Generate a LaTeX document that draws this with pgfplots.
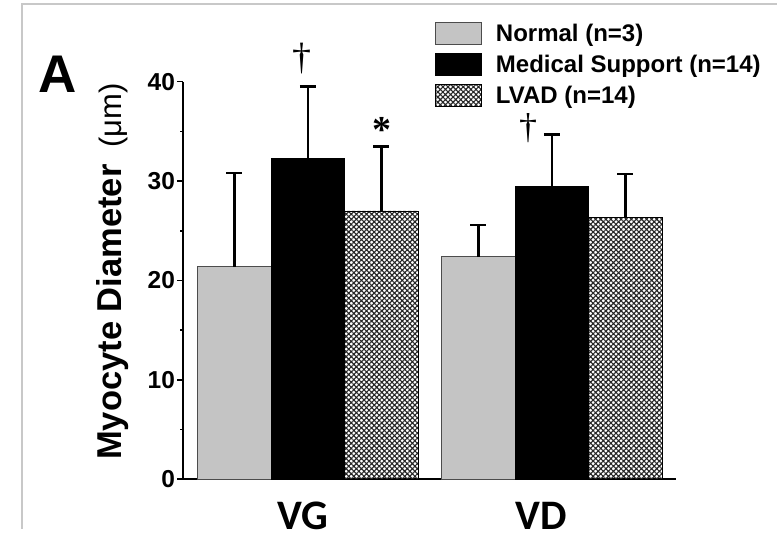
\documentclass[border=0pt]{standalone}
\usepackage{fontspec}
\setmainfont{Liberation Sans}
\newfontfamily\serifx{Liberation Serif}
\newfontfamily\calib{Carlito}
\usepackage{pgfplots}
\pgfplotsset{compat=1.18}
\usetikzlibrary{patterns.meta}
\definecolor{normalgray}{RGB}{196,196,196}
\definecolor{framegray}{RGB}{200,200,200}

\begin{document}
\begin{tikzpicture}[x=1pt,y=1pt]
\useasboundingbox (0,0) rectangle (777,540);
\draw[framegray, line width=1.2pt] (22,11) -- (22,536) -- (777,536);
\begin{axis}[
  at={(183pt,60.7pt)}, anchor=south west,
  scale only axis, width=493pt, height=397.6pt,
  xmin=-0.511, xmax=1.508, ymin=0, ymax=40,
  axis lines*=left,
  axis line style={line width=2.2pt},
  xtick=\empty,
  ytick={0,10,20,30,40},
  minor ytick={5,15,25,35},
  tick align=outside,
  major tick length=6pt, minor tick length=3pt,
  tick style={line width=1.6pt, black},
  yticklabel style={font=\fontsize{24.5}{27}\selectfont\bfseries, xshift=1.5pt},
  /pgf/number format/assume math mode=true,
  ybar=0pt, bar width=73.5pt,
  clip=false,
  error bars/y dir=plus, error bars/y explicit,
  error bars/error bar style={line width=2.5pt, black},
  error bars/error mark options={rotate=90, mark size=8pt, line width=2.5pt, black},
  legend style={at={(0.505,1.155)}, anchor=north west, draw=none, fill=none,
    font=\fontsize{24}{28}\selectfont\bfseries, nodes={inner sep=0pt},
    row sep=8pt, column sep=14pt},
  legend cell align=left,
  legend image code/.code={\draw[#1] (0pt,-11pt) rectangle (46pt,11pt);},
]
\addplot[fill=normalgray, draw=black!70, line width=0.8pt]
  coordinates {(0,21.4) +- (0,9.4) (1,22.4) +- (0,3.2)};
\addlegendentry{Normal (n=3)}
\addplot[fill=black, draw=black, line width=0.8pt]
  coordinates {(0,32.3) +- (0,7.2) (1,29.5) +- (0,5.2)};
\addlegendentry{Medical Support (n=14)}
\addplot[pattern={Hatch[angle=45,distance=3.6pt,line width=1.1pt]}, pattern color=black!85, draw=black, line width=0.8pt]
  coordinates {(0,27.0) +- (0,6.5) (1,26.3) +- (0,4.4)};
\addlegendentry{LVAD (n=14)}
\end{axis}
% panel letter
\node[anchor=base west, inner sep=0pt, font=\fontsize{53}{60}\selectfont\bfseries] at (38,447) {A};
% y label
\node[rotate=90, anchor=base west, inner sep=0pt, font=\fontsize{34.5}{38}\selectfont\bfseries] at (121,80) {Myocyte Diameter};
\node[rotate=90, anchor=base east, inner sep=0pt, font=\fontsize{31}{34}\selectfont] at (121,457) {(μm)};
% significance marks
\node[inner sep=0pt, font=\fontsize{38}{40}\selectfont\serifx] at (302,481) {†};
\node[inner sep=0pt, font=\fontsize{38}{40}\selectfont\serifx\bfseries] at (382,410) {*};
\node[inner sep=0pt, font=\fontsize{36}{40}\selectfont\serifx] at (528,412) {†};
% group labels
\node[anchor=base, inner sep=0pt, font=\fontsize{42}{45}\selectfont\calib\bfseries] at (302.5,10) {VG};
\node[anchor=base, inner sep=0pt, font=\fontsize{42}{45}\selectfont\calib\bfseries] at (541,10) {VD};
\end{tikzpicture}
\end{document}
